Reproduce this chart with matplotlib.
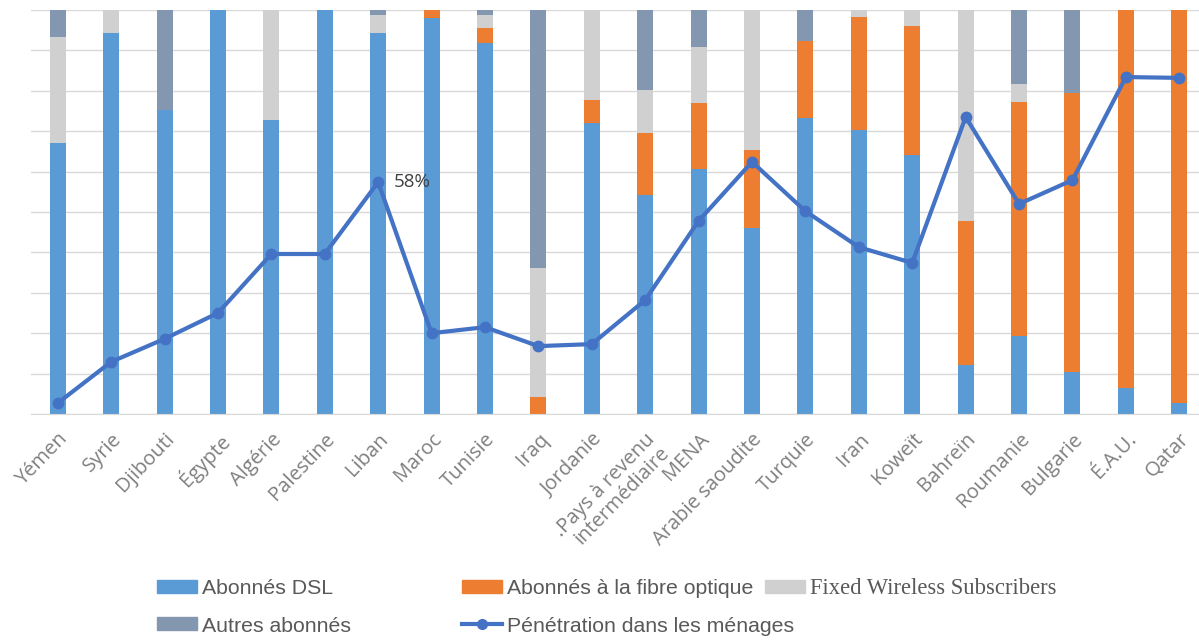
import matplotlib
matplotlib.use("Agg")
import matplotlib.pyplot as plt
import numpy as np
from matplotlib.patches import Patch
from matplotlib.lines import Line2D

categories = ["Yémen", "Syrie", "Djibouti", "Égypte", "Algérie", "Palestine", "Liban",
              "Maroc", "Tunisie", "Iraq", "Jordanie", ".Pays à revenu\nintermédiaire", "MENA",
              "Arabie saoudite", "Turquie", "Iran", "Koweït", "Bahreïn", "Roumanie",
              "Bulgarie", "É.A.U.", "Qatar"]
dsl =      [67, 94.3, 75.2, 100, 72.8, 100, 94.3, 98, 91.8, 0, 72, 54.2, 60.6, 46, 73.3, 70.3, 64.1, 12.1, 19.3, 10.4, 6.4, 2.7]
fibre =    [0, 0, 0, 0, 0, 0, 0, 2, 3.7, 4.2, 5.7, 15.4, 16.4, 19.3, 19, 28, 31.9, 35.7, 57.9, 69.1, 93.6, 97.3]
wireless = [26.3, 5.7, 0, 0, 27.2, 0, 4.5, 0, 3.3, 31.9, 22.3, 10.6, 13.8, 34.7, 0, 1.7, 4, 52.2, 4.5, 0, 0, 0]
autres =   [6.7, 0, 24.8, 0, 0, 0, 1.2, 0, 1.2, 63.9, 0, 19.8, 9.2, 0, 7.7, 0, 0, 0, 18.3, 20.5, 0, 0]
penetration = [2.7, 12.9, 18.6, 25, 39.6, 39.6, 57.4, 20, 21.5, 16.8, 17.3, 28.2, 47.8, 62.4,
               50.2, 41.3, 37.4, 73.5, 52, 57.9, 83.4, 83.2]

c_dsl = "#5B9BD5"
c_fib = "#ED7D31"
c_fw = "#D0D0D0"
c_aut = "#8497B0"
c_line = "#4472C4"

tick_font = "Open Sans"

fig = plt.figure(figsize=(11.99, 6.41), dpi=100)
ax = fig.add_axes([31/1199, 1-414/641, 1175/1199, 404/641])

x = np.arange(len(categories))
w = 0.3
b = np.zeros(len(x))
for vals, col in [(dsl, c_dsl), (fibre, c_fib), (wireless, c_fw), (autres, c_aut)]:
    v = np.array(vals)
    ax.bar(x, v, w, bottom=b, color=col, zorder=2)
    b = b + v

ax.plot(x, penetration, color=c_line, lw=3, marker="o", ms=7.5, zorder=3)
ax.text(6 + 0.3, penetration[6], "58%", fontsize=13.5, color="#404040",
        va="center", ha="left", family=tick_font, zorder=4)

ax.set_xlim(-0.5, len(x) - 0.5)
ax.set_ylim(0, 100)
ax.set_yticks(np.arange(0, 101, 10))
ax.set_yticklabels([])
ax.grid(axis="y", color="#D9D9D9", lw=1, zorder=0)
ax.tick_params(length=0)
for s in ["top", "right", "left"]:
    ax.spines[s].set_visible(False)
ax.spines["bottom"].set_color("#D9D9D9")
ax.set_xticks(x)
ax.set_xticklabels(categories, rotation=46, ha="right", rotation_mode="anchor",
                   fontsize=14.5, color="#7F7F7F", family=tick_font, linespacing=0.95)
ax.tick_params(axis="x", pad=11)

def leg(handle, label, xpx, ypx, fam, size):
    l = fig.legend([handle], [label], loc="center left",
                   bbox_to_anchor=(xpx/1199, 1 - ypx/641), frameon=False,
                   handlelength=40*0.72/size, handleheight=12*0.72/size,
                   handletextpad=5*0.72/size, borderaxespad=0, borderpad=0,
                   prop={"family": fam, "size": size})
    for t in l.get_texts():
        t.set_color("#595959")

lf, ls = "Liberation Sans", 15.3
leg(Patch(color=c_dsl), "Abonnés DSL", 157, 589, lf, ls)
leg(Patch(color=c_fib), "Abonnés à la fibre optique", 462, 589, lf, ls)
leg(Patch(color=c_fw), "Fixed Wireless Subscribers", 765, 589, "Liberation Serif", 16.3)
leg(Patch(color=c_aut), "Autres abonnés", 157, 626, lf, ls)
leg(Line2D([], [], color=c_line, lw=3, marker="o", ms=7), "Pénétration dans les ménages", 462, 626, lf, ls)

fig.savefig("out.png", dpi=100)
